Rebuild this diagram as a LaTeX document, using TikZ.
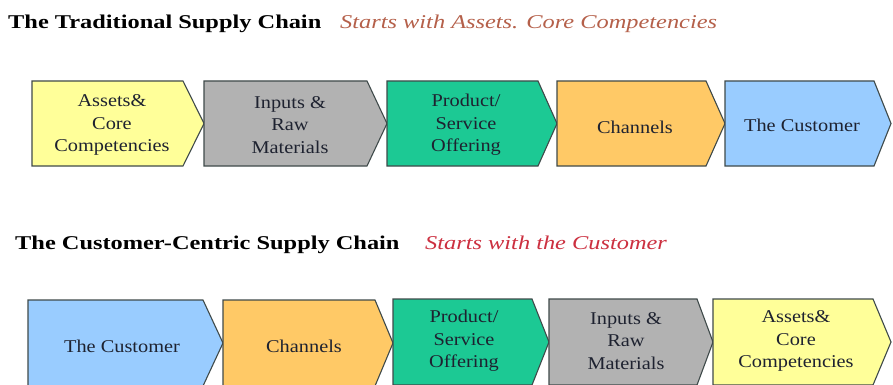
\documentclass[tikz,border=0pt]{standalone}
\usepackage{fontspec}
\setmainfont{Liberation Serif}
\usepackage{graphicx}
\definecolor{cyellow}{HTML}{FFFF99}
\definecolor{cgray}{HTML}{B2B2B2}
\definecolor{cgreen}{HTML}{1CC994}
\definecolor{corange}{HTML}{FFC966}
\definecolor{cblue}{HTML}{99CCFF}
\definecolor{cedge}{HTML}{3F4A4A}
\definecolor{cbrown}{HTML}{B5604A}
\definecolor{cred}{HTML}{CC3040}
\definecolor{ctext}{HTML}{1E2230}
\newcommand\hs[1]{\scalebox{1.25}[1]{#1}}
\newcommand\bs[1]{\scalebox{1.13}[1]{#1}}
\newcommand\chevron[7]{%
  \filldraw[chevbox,fill=#6] (#1,#4) -- (#2,#4) -- (#3,{(#4+#5)/2}) -- (#2,#5) -- (#1,#5) -- cycle;
  \node[boxtext] (#7) at ({(#1+#2)/2+4},{(#4+#5)/2+1}) {};}
\begin{document}
\begin{tikzpicture}[x=1pt,y=-1pt,
  chevbox/.style={draw=cedge,line width=1.1pt,line join=miter},
  boxtext/.style={align=center,text=ctext,font=\fontsize{18}{22.5}\selectfont,inner sep=0pt},
  titlebold/.style={anchor=base west,inner sep=0pt,font=\fontsize{19.5}{22}\selectfont\bfseries},
  titleital/.style={anchor=base west,inner sep=0pt,font=\fontsize{19.5}{22}\selectfont\itshape}]
\clip (0,0) rectangle (893,385);
\fill[white] (0,0) rectangle (893,385);
% titles
\node[titlebold] (h1) at (8,29) {\hs{The Traditional Supply Chain}};
\node[titleital,text=cbrown] (s1) at (340,29) {\hs{Starts with Assets. Core Competencies}};
\node[titlebold] (h2) at (15,249) {\hs{The Customer-Centric Supply Chain}};
\node[titleital,text=cred] (s2) at (425,249) {\hs{Starts with the Customer}};
% top row
\filldraw[chevbox,fill=cyellow] (32,81) -- (183,81) -- (204,123.5) -- (183,166) -- (32,166) -- cycle;
\filldraw[chevbox,fill=cgray] (204,81) -- (367,81) -- (387,123.5) -- (367,166) -- (204,166) -- cycle;
\filldraw[chevbox,fill=cgreen] (387,81) -- (538,81) -- (557,123.5) -- (538,166) -- (387,166) -- cycle;
\filldraw[chevbox,fill=corange] (557,81) -- (706,81) -- (725,123.5) -- (706,166) -- (557,166) -- cycle;
\filldraw[chevbox,fill=cblue] (725,81) -- (874,81) -- (891,123.5) -- (874,166) -- (725,166) -- cycle;
\node[boxtext] (t1) at (112,125) {\bs{Assets\&}\\\bs{Core}\\\bs{Competencies}};
\node[boxtext] (t2) at (290,125) {\bs{Inputs \&}\\\bs{Raw}\\\bs{Materials}};
\node[boxtext] (t3) at (466,125) {\bs{Product/}\\\bs{Service}\\\bs{Offering}};
\node[boxtext] (t4) at (635,127) {\bs{Channels}};
\node[boxtext] (t5) at (802,125) {\bs{The Customer}};
% bottom row
\filldraw[chevbox,fill=cblue] (28,300) -- (203,300) -- (223,343) -- (203,386) -- (28,386) -- cycle;
\filldraw[chevbox,fill=corange] (223,300) -- (375,300) -- (393,343) -- (375,386) -- (223,386) -- cycle;
\filldraw[chevbox,fill=cgreen] (393,299) -- (532,299) -- (549,342) -- (532,385) -- (393,385) -- cycle;
\filldraw[chevbox,fill=cgray] (549,299) -- (697,299) -- (713,342) -- (697,385) -- (549,385) -- cycle;
\filldraw[chevbox,fill=cyellow] (713,299) -- (873,299) -- (891,342) -- (873,385) -- (713,385) -- cycle;
\node[boxtext] (b1) at (122,346) {\bs{The Customer}};
\node[boxtext] (b2) at (304,346) {\bs{Channels}};
\node[boxtext] (b3) at (464,341) {\bs{Product/}\\\bs{Service}\\\bs{Offering}};
\node[boxtext] (b4) at (626,341) {\bs{Inputs \&}\\\bs{Raw}\\\bs{Materials}};
\node[boxtext] (b5) at (796,341) {\bs{Assets\&}\\\bs{Core}\\\bs{Competencies}};
\end{tikzpicture}
\end{document}
